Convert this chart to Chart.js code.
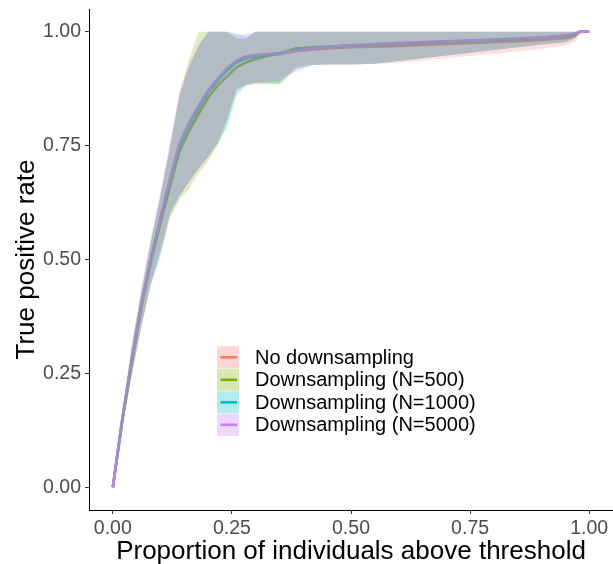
<!DOCTYPE html>
<html>
<head>
<meta charset="utf-8">
<script src="https://cdn.jsdelivr.net/npm/chart.js@4"></script>
<style>
html,body{margin:0;padding:0;background:#fff;}
#c{display:block;}
</style>
</head>
<body>
<canvas id="c" width="613" height="564"></canvas>
<script>
// ---------- data ----------
const seriesNames = ['No downsampling', 'Downsampling (N=500)', 'Downsampling (N=1000)', 'Downsampling (N=5000)'];
const seriesColors = ['#F8766D', '#7CAE00', '#00BFC4', '#C77CFF'];
const xTicks = [0, 0.25, 0.5, 0.75, 1];
const yTicks = [0, 0.25, 0.5, 0.75, 1];
const tickLabels = ['0.00', '0.25', '0.50', '0.75', '1.00'];
const xTitle = 'Proportion of individuals above threshold';
const yTitle = 'True positive rate';

const propAbove = [0, 0.02, 0.04, 0.06, 0.08, 0.10, 0.12, 0.14, 0.16, 0.18, 0.20, 0.22, 0.24, 0.26, 0.28, 0.30, 0.35, 0.385, 0.42, 0.46, 0.50, 0.55, 0.60, 0.70, 0.80, 0.90, 0.95, 0.97, 0.98, 1.0];

const tprNone    = [0, 0.15, 0.28, 0.40, 0.50, 0.59, 0.675, 0.752, 0.797, 0.835, 0.87, 0.895, 0.918, 0.935, 0.944, 0.948, 0.952, 0.958, 0.961, 0.964, 0.966, 0.967, 0.969, 0.973, 0.977, 0.982, 0.986, 0.991, 1.0, 1.0];
const tpr500     = [0, 0.145, 0.275, 0.395, 0.495, 0.58, 0.66, 0.738, 0.782, 0.82, 0.855, 0.882, 0.902, 0.922, 0.933, 0.940, 0.953, 0.964, 0.966, 0.968, 0.970, 0.972, 0.974, 0.978, 0.982, 0.987, 0.991, 0.995, 1.0, 1.0];
const tpr1000    = [0, 0.15, 0.28, 0.40, 0.50, 0.588, 0.673, 0.75, 0.795, 0.832, 0.867, 0.892, 0.915, 0.933, 0.942, 0.946, 0.951, 0.961, 0.964, 0.967, 0.970, 0.972, 0.974, 0.978, 0.982, 0.987, 0.991, 0.995, 1.0, 1.0];
const tpr5000    = [0, 0.15, 0.28, 0.40, 0.50, 0.592, 0.678, 0.755, 0.80, 0.838, 0.872, 0.897, 0.92, 0.937, 0.946, 0.949, 0.953, 0.959, 0.963, 0.967, 0.971, 0.973, 0.975, 0.979, 0.983, 0.988, 0.992, 0.996, 1.0, 1.0];

const lowNone    = [0, 0.135, 0.25, 0.355, 0.45, 0.52, 0.60, 0.64, 0.67, 0.70, 0.725, 0.755, 0.81, 0.875, 0.885, 0.888, 0.89, 0.925, 0.928, 0.928, 0.928, 0.93, 0.932, 0.942, 0.952, 0.962, 0.97, 0.978, 0.992, 1.0];
const low500     = [0, 0.13, 0.245, 0.35, 0.445, 0.515, 0.59, 0.63, 0.655, 0.69, 0.715, 0.75, 0.80, 0.87, 0.882, 0.885, 0.885, 0.918, 0.927, 0.928, 0.928, 0.93, 0.936, 0.948, 0.96, 0.972, 0.977, 0.985, 1.0, 1.0];
const low1000    = [0, 0.135, 0.25, 0.355, 0.445, 0.505, 0.60, 0.64, 0.67, 0.70, 0.725, 0.755, 0.79, 0.86, 0.882, 0.888, 0.886, 0.92, 0.927, 0.928, 0.928, 0.93, 0.936, 0.948, 0.96, 0.972, 0.977, 0.985, 1.0, 1.0];
const low5000    = [0, 0.135, 0.25, 0.355, 0.45, 0.52, 0.60, 0.64, 0.67, 0.70, 0.725, 0.755, 0.81, 0.875, 0.885, 0.888, 0.895, 0.912, 0.927, 0.928, 0.928, 0.93, 0.936, 0.948, 0.96, 0.972, 0.977, 0.985, 1.0, 1.0];

const highNone   = [0, 0.165, 0.31, 0.43, 0.54, 0.64, 0.75, 0.87, 0.93, 0.97, 1.0, 1.0, 1.0, 0.985, 0.985, 1.0, 1.0, 1.0, 1.0, 1.0, 1.0, 1.0, 1.0, 1.0, 1.0, 1.0, 1.0, 1.0, 1.0, 1.0];
const high500    = [0, 0.165, 0.31, 0.43, 0.54, 0.64, 0.745, 0.86, 0.94, 1.0, 1.0, 1.0, 1.0, 0.985, 0.985, 1.0, 1.0, 1.0, 1.0, 1.0, 1.0, 1.0, 1.0, 1.0, 1.0, 1.0, 1.0, 1.0, 1.0, 1.0];
const high1000   = [0, 0.165, 0.31, 0.43, 0.54, 0.64, 0.745, 0.855, 0.92, 0.97, 1.0, 1.0, 1.0, 0.995, 0.99, 1.0, 1.0, 1.0, 1.0, 1.0, 1.0, 1.0, 1.0, 1.0, 1.0, 1.0, 1.0, 1.0, 1.0, 1.0];
const high5000   = [0, 0.17, 0.315, 0.44, 0.55, 0.65, 0.76, 0.865, 0.925, 0.97, 1.0, 1.0, 1.0, 0.995, 0.995, 1.0, 1.0, 1.0, 1.0, 1.0, 1.0, 1.0, 1.0, 1.0, 1.0, 1.0, 1.0, 1.0, 1.0, 1.0];

const means = [tprNone, tpr500, tpr1000, tpr5000];
const lows = [lowNone, low500, low1000, low5000];
const highs = [highNone, high500, high1000, high5000];

// ---------- helpers ----------
function rgba(hex, a) {
  const n = parseInt(hex.slice(1), 16);
  return `rgba(${(n >> 16) & 255},${(n >> 8) & 255},${n & 255},${a})`;
}
function pts(ys) { return propAbove.map((x, i) => ({x: x, y: ys[i]})); }

const RIBBON_ALPHA = 0.23;
const datasets = [];
// lines (drawn underneath the ribbons, like the original)
for (let s = 0; s < 4; s++) {
  datasets.push({
    data: pts(means[s]), borderColor: seriesColors[s], borderWidth: 2.6,
    pointRadius: 0, fill: false, tension: 0, order: 20 - s
  });
}
// ribbons
for (let s = 0; s < 4; s++) {
  datasets.push({
    data: pts(highs[s]), borderWidth: 0, borderColor: 'rgba(0,0,0,0)',
    backgroundColor: rgba(seriesColors[s], RIBBON_ALPHA),
    pointRadius: 0, fill: '+1', tension: 0, order: 10 - s
  });
  datasets.push({
    data: pts(lows[s]), borderWidth: 0, borderColor: 'rgba(0,0,0,0)',
    pointRadius: 0, fill: false, tension: 0, order: 10 - s - 0.5
  });
}

const FONT = '"Liberation Sans", Arial, Helvetica, sans-serif';

const overlay = {
  id: 'overlay',
  afterDraw(chart) {
    const ctx = chart.ctx;
    const ca = chart.chartArea;
    ctx.save();
    // axis titles
    ctx.fillStyle = '#000';
    ctx.font = '26px ' + FONT;
    ctx.textAlign = 'center';
    ctx.textBaseline = 'alphabetic';
    ctx.fillText(xTitle, (ca.left + ca.right) / 2, 559);
    ctx.save();
    ctx.translate(33.5, (ca.top + ca.bottom) / 2);
    ctx.rotate(-Math.PI / 2);
    ctx.fillText(yTitle, 0, 0);
    ctx.restore();
    // legend
    const x0 = 217, boxW = 22, boxH = 22;
    for (let s = 0; s < 4; s++) {
      const cy = 357.3 + 22.5 * s;
      ctx.fillStyle = rgba(seriesColors[s], 0.3);
      ctx.fillRect(x0, cy - boxH / 2, boxW, boxH);
      ctx.strokeStyle = seriesColors[s];
      ctx.lineWidth = 2.6;
      ctx.beginPath();
      ctx.moveTo(x0 + 3.5, cy);
      ctx.lineTo(x0 + boxW - 2, cy);
      ctx.stroke();
      ctx.fillStyle = '#000';
      ctx.font = '20px ' + FONT;
      ctx.textAlign = 'left';
      ctx.textBaseline = 'middle';
      ctx.fillText(seriesNames[s], 255, cy + 1);
    }
    ctx.restore();
  }
};

new Chart(document.getElementById('c'), {
  type: 'line',
  data: {datasets: datasets},
  options: {
    responsive: false,
    animation: false,
    devicePixelRatio: 1,
    layout: {padding: {left: 0, right: 0, top: 9, bottom: 0}},
    plugins: {legend: {display: false}, tooltip: {enabled: false}, filler: {propagate: false}},
    scales: {
      x: {
        type: 'linear', min: -0.05, max: 1.05,
        afterFit(scale) { scale.height = 54; scale.paddingLeft = 0; scale.paddingRight = 0; },
        afterBuildTicks(scale) { scale.ticks = xTicks.map(v => ({value: v})); },
        grid: {drawOnChartArea: false, drawTicks: true, tickLength: 4, tickColor: '#333333', tickWidth: 1},
        border: {display: true, color: '#000', width: 1},
        ticks: {
          color: '#4D4D4D', font: {family: FONT, size: 19.5}, padding: 3, maxRotation: 0,
          callback: (v) => { const i = xTicks.indexOf(v); return i >= 0 ? tickLabels[i] : ''; }
        }
      },
      y: {
        type: 'linear', min: -0.05, max: 1.05,
        afterFit(scale) { scale.width = 89; scale.paddingTop = 0; scale.paddingBottom = 0; },
        afterBuildTicks(scale) { scale.ticks = yTicks.map(v => ({value: v})); },
        grid: {drawOnChartArea: false, drawTicks: true, tickLength: 4, tickColor: '#333333', tickWidth: 1},
        border: {display: true, color: '#000', width: 1},
        ticks: {
          color: '#4D4D4D', font: {family: FONT, size: 19.5}, padding: 4,
          callback: (v) => { const i = yTicks.indexOf(v); return i >= 0 ? tickLabels[i] : ''; }
        }
      }
    }
  },
  plugins: [overlay]
});
</script>
</body>
</html>
